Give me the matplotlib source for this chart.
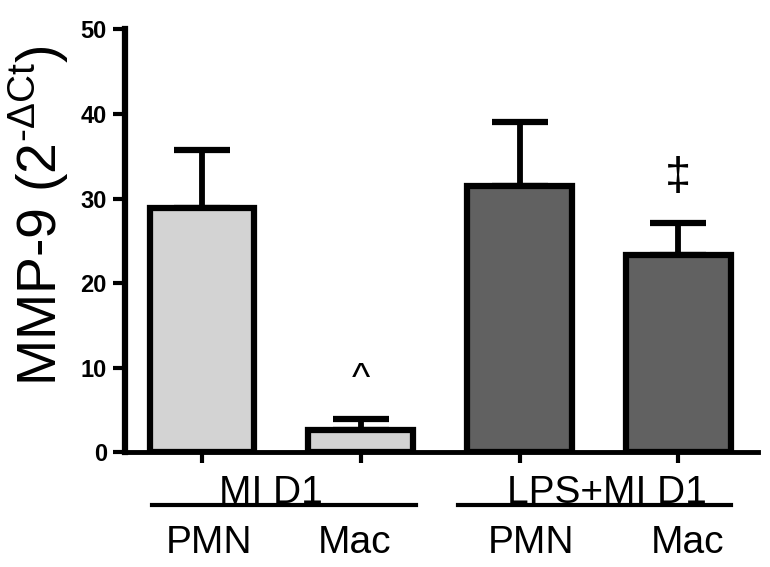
import matplotlib
matplotlib.use("Agg")
import matplotlib.pyplot as plt
import matplotlib.transforms as mtransforms

plt.rcParams['font.family'] = ['Liberation Sans', 'DejaVu Sans']
plt.rcParams['mathtext.fontset'] = 'custom'
plt.rcParams['mathtext.rm'] = 'Liberation Sans'

# data
cells = ["PMN", "Mac", "PMN", "Mac"]
values = [28.9, 2.7, 31.5, 23.4]
errors = [6.9, 1.2, 7.6, 3.7]
colors = ["#d3d3d3", "#d3d3d3", "#616161", "#616161"]
marks = ["", "^", "", "\u2021"]
mark_y = [None, 8.6, None, 32.4]
groups = ["MI D1", "LPS+MI D1"]

fig = plt.figure(figsize=(7.7, 5.67), dpi=100)
ax = fig.add_axes([0.1623, 0.202, 0.8217, 0.746])

x = list(range(len(values)))
ax.errorbar(x, values, yerr=[[0] * len(errors), errors], fmt='none',
            ecolor='black', elinewidth=4.2, capsize=20, capthick=4.5, zorder=1)
ax.bar(x, values, width=0.66, color=colors, edgecolor='black', linewidth=4.5, zorder=2)

for xi, m, my in zip(x, marks, mark_y):
    if m == "^":
        ax.text(xi, my, m, ha='center', va='center', fontsize=28)
    elif m:
        ax.text(xi, my, m, ha='center', va='center', fontsize=34)

ax.set_xlim(-0.485, 3.50)
ax.set_ylim(0, 50)
ax.set_yticks([0, 10, 20, 30, 40, 50])
ax.set_xticks(x)
ax.set_xticklabels([])
for lab in ax.get_yticklabels():
    lab.set_fontweight('bold')
ax.tick_params(axis='y', labelsize=17, width=3, length=9, pad=4)
ax.tick_params(axis='x', width=3, length=8)
for s in ['top', 'right']:
    ax.spines[s].set_visible(False)
ax.spines['left'].set_linewidth(4.5)
ax.spines['bottom'].set_linewidth(3.5)

trans = mtransforms.blended_transform_factory(ax.transData, ax.transAxes)
# group labels with underline
ax.plot([-0.315, 1.35], [-0.124, -0.124], color='black', lw=3, transform=trans, clip_on=False)
ax.plot([1.613, 3.333], [-0.124, -0.124], color='black', lw=3, transform=trans, clip_on=False)
ax.text(0.435, -0.119, groups[0], transform=trans, ha='center', va='baseline', fontsize=28)
ax.text(2.55, -0.119, groups[1], transform=trans, ha='center', va='baseline', fontsize=28)

label_x = [0.044, 0.96, 2.07, 3.06]
for lx, c in zip(label_x, cells):
    ax.text(lx, -0.2375, c, transform=trans, ha='center', va='baseline', fontsize=28)

fig.text(0.051, 0.62, r'MMP-9 (2$^{\mathrm{\text{-}\Delta Ct}}$)', rotation=90,
         ha='center', va='center', fontsize=40)

fig.savefig("out.png", dpi=100)
